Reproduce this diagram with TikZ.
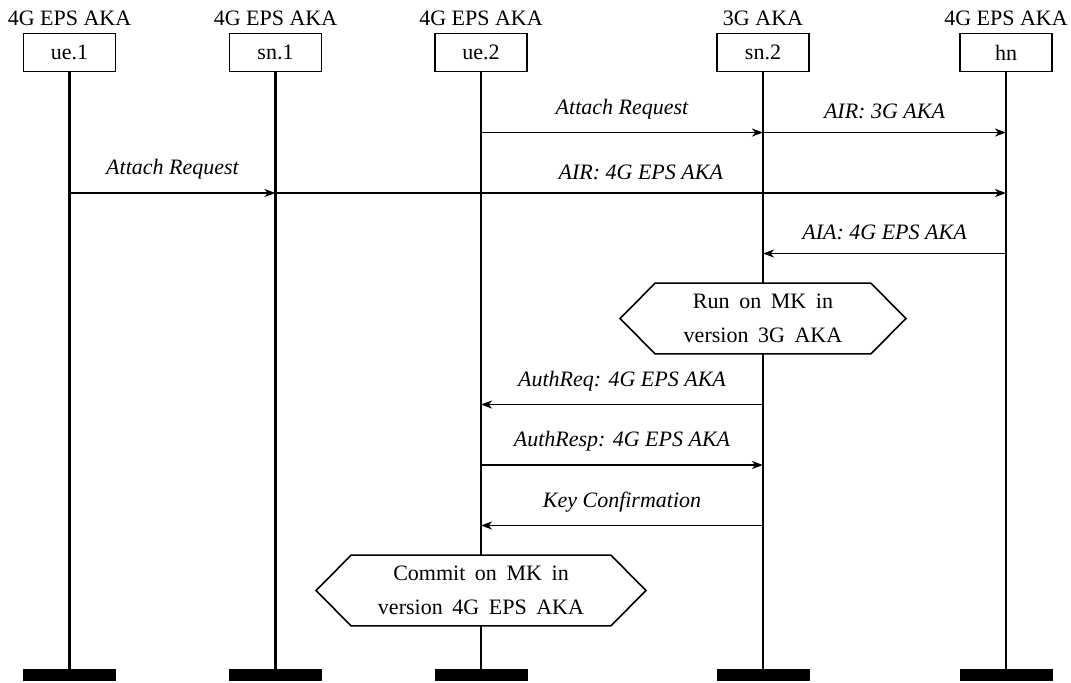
\documentclass[tikz,border=0pt]{standalone}
\usepackage{fontspec}
\setmainfont{Liberation Serif}
\usetikzlibrary{arrows.meta}
\pgfdeclarelayer{background}
\pgfsetlayers{background,main}

\newcommand{\mscsize}{\fontsize{11}{13.5}\selectfont}

\tikzset{
  headtext/.style={anchor=base, inner sep=0pt, font=\mscsize},
  headbox/.style={draw, line width=0.8pt, minimum width=46pt, minimum height=19pt, inner sep=0pt, font=\mscsize},
  footbar/.style={fill=black, draw=none, minimum width=46.5pt, minimum height=6pt, inner sep=0pt},
  lifeline/.style={line width=1.3pt},
  msg/.style={line width=0.8pt, -{Stealth[length=5.5pt, width=4pt, inset=1.6pt]}},
  msglabel/.style={above=3pt, midway, font=\mscsize\itshape},
  condtext/.style={align=center, minimum height=35pt, inner sep=0pt,
    font={\fontsize{11}{17}\selectfont\spaceskip=4.8pt plus 1pt minus 1pt\relax}},
  condline/.style={draw, fill=white, line width=0.8pt, line join=miter}
}

\begin{document}
\begin{tikzpicture}[x=0.5pt, y=-0.5pt]
  \useasboundingbox (0,0) rectangle (1071,682);

  % instance headers, heads and feet
  \foreach \name/\lbl/\ver/\xx in {ue1/ue.1/4G EPS AKA/69.5, sn1/sn.1/4G EPS AKA/275.5,
                                    ue2/ue.2/4G EPS AKA/481, sn2/sn.2/3G AKA/763,
                                    hn/hn/4G EPS AKA/1006} {
    \node[headtext] (h\name) at (\xx,25) {\ver};
    \node[headbox] (\name) at (\xx,52.5) {\lbl};
    \node[footbar] (f\name) at (\xx,675) {};
  }

  % message levels
  \coordinate (L1) at (0,132.5);
  \coordinate (L2) at (0,193);
  \coordinate (L3) at (0,253.5);
  \coordinate (L4) at (0,404.5);
  \coordinate (L5) at (0,465);
  \coordinate (L6) at (0,525.5);

  \draw[msg] (ue2 |- L1) -- (sn2 |- L1) node[msglabel] {Attach Request};
  \draw[msg] (sn2 |- L1) -- (hn |- L1) node[msglabel] {AIR: 3G AKA};
  \draw[msg] (ue1 |- L2) -- (sn1 |- L2) node[msglabel] {Attach Request};
  \draw[msg] (sn1 |- L2) -- (hn |- L2) node[msglabel] {AIR: 4G EPS AKA};
  \draw[msg] (hn |- L3) -- (sn2 |- L3) node[msglabel] {AIA: 4G EPS AKA};
  \draw[msg] (sn2 |- L4) -- (ue2 |- L4) node[msglabel] {AuthReq: 4G EPS AKA};
  \draw[msg] (ue2 |- L5) -- (sn2 |- L5) node[msglabel] {AuthResp: 4G EPS AKA};
  \draw[msg] (sn2 |- L6) -- (ue2 |- L6) node[msglabel] {Key Confirmation};

  % conditions
  \node[condtext, minimum width=107.5pt] (run) at (763,318.5) {Run on MK in\\version 3G AKA};
  \node[condtext, minimum width=129.5pt] (commit) at (481,590.5) {Commit on MK in\\version 4G EPS AKA};

  \begin{pgfonlayer}{background}
    % instance lines
    \foreach \name in {ue1,sn1,ue2,sn2,hn}
      \draw[lifeline] (\name.south) -- (f\name.north);
    % hexagon outlines, covering the instance lines behind them
    \foreach \c in {run,commit}
      \draw[condline] (\c.north west) -- (\c.north east) -- ([xshift=17.5pt]\c.east)
        -- (\c.south east) -- (\c.south west) -- ([xshift=-17.5pt]\c.west) -- cycle;
  \end{pgfonlayer}
\end{tikzpicture}
\end{document}
